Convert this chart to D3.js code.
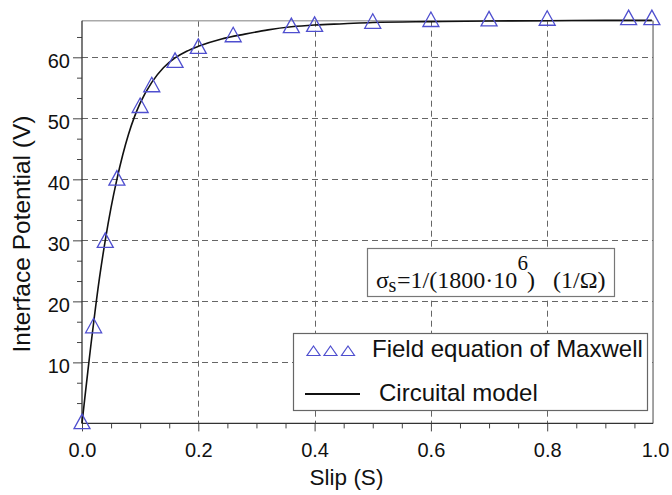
<!DOCTYPE html>
<html><head><meta charset="utf-8">
<script src="https://cdn.jsdelivr.net/npm/d3@7"></script>
<style>
html,body{margin:0;padding:0;background:#fff;}
svg{display:block;}
</style></head>
<body>
<svg id="chart" width="672" height="495"></svg>
<script>
// ---- data ----
const fieldX = [0, 0.02, 0.04, 0.06, 0.10, 0.12, 0.16, 0.20, 0.26, 0.36, 0.40, 0.50, 0.60, 0.70, 0.80, 0.94, 0.98];
const fieldY = [0.3, 16, 30, 40.2, 52.1, 55.5, 59.5, 61.8, 63.7, 65.2, 65.4, 65.9, 66.2, 66.3, 66.4, 66.5, 66.5];
const curveX = [0, 0.005, 0.01, 0.015, 0.02, 0.03, 0.04, 0.05, 0.06, 0.07, 0.08, 0.09, 0.10, 0.12, 0.14, 0.16, 0.18, 0.20, 0.24, 0.28, 0.32, 0.36, 0.40, 0.45, 0.50, 0.60, 0.70, 0.80, 0.90, 0.98];
const curveY = [0, 4.3, 8.5, 12.6, 16.5, 23.8, 30, 35.4, 40, 44, 47.4, 50.2, 52.5, 55.9, 58.3, 59.9, 61, 61.8, 63, 63.8, 64.5, 65.0, 65.3, 65.5, 65.7, 65.85, 65.95, 66.0, 66.05, 66.05];
const xTickValues = [0, 0.2, 0.4, 0.6, 0.8];
const xMinorValues = [0.05, 0.1, 0.15, 0.25, 0.3, 0.35, 0.45, 0.5, 0.55, 0.65, 0.7, 0.75, 0.85, 0.9, 0.95];
const xAxisEnd = 0.982;
const xEndLabel = "1.0";
const yTickValues = [10, 20, 30, 40, 50, 60];
const yMinorValues = [10/3, 20/3, 40/3, 50/3, 70/3, 80/3, 100/3, 110/3, 130/3, 140/3, 160/3, 170/3, 190/3];
const yMax = 66;
const xTitle = "Slip (S)";
const yTitle = "Interface Potential (V)";
const legendLabels = ["Field equation of Maxwell", "Circuital model"];

// ---- layout ----
const svg = d3.select("#chart");
const L = 82, R = 663.5, T = 20.7, B = 423.4;
const x = d3.scaleLinear().domain([0, 1]).range([L, R]);
const y = d3.scaleLinear().domain([0, yMax]).range([B, T]);
const xEnd = x(xAxisEnd);
const markerColor = "#4f4fcf";
const sans = "'Liberation Sans', Arial, Helvetica, sans-serif";
const serif = "'Liberation Serif', 'Times New Roman', serif";

// grid
const grid = svg.append("g").attr("stroke", "#666").attr("stroke-width", 1).attr("stroke-dasharray", "6,4");
grid.selectAll("line.h").data(yTickValues).join("line").attr("class", "h")
  .attr("x1", L).attr("x2", xEnd).attr("y1", d => Math.round(y(d)) + 0.5).attr("y2", d => Math.round(y(d)) + 0.5);
grid.selectAll("line.v").data(xTickValues.slice(1)).join("line").attr("class", "v")
  .attr("y1", T).attr("y2", B).attr("x1", d => Math.round(x(d)) + 0.5).attr("x2", d => Math.round(x(d)) + 0.5);

// frame top / right
svg.append("line").attr("x1", L).attr("x2", xEnd).attr("y1", T).attr("y2", T).attr("stroke", "#aaa").attr("stroke-width", 1.5);
svg.append("line").attr("x1", xEnd).attr("x2", xEnd).attr("y1", T).attr("y2", B).attr("stroke", "#666").attr("stroke-width", 1.2);

// annotation box
const ann = svg.append("g");
ann.append("rect").attr("x", 367.5).attr("y", 248.5).attr("width", 247).attr("height", 48)
  .attr("fill", "#fff").attr("stroke", "#777").attr("stroke-width", 1.2);
const annText = ann.append("text").attr("font-family", serif).attr("font-size", 24).attr("fill", "#111");
annText.append("tspan").attr("x", 376).attr("y", 287.5).text("σ");
annText.append("tspan").attr("x", 388.5).attr("y", 292).attr("font-size", 20).text("s");
annText.append("tspan").attr("x", 397).attr("y", 287.5).text("=1/(1800·10");
annText.append("tspan").attr("x", 517.5).attr("y", 270).attr("font-size", 21).text("6");
annText.append("tspan").attr("x", 527).attr("y", 287.5).text(")");
annText.append("tspan").attr("x", 553).attr("y", 287.5).text("(1/Ω)");

// legend
const lg = svg.append("g");
lg.append("rect").attr("x", 293.5).attr("y", 333.5).attr("width", 354).attr("height", 77)
  .attr("fill", "#fff").attr("stroke", "#666").attr("stroke-width", 1.2);
const legTri = [313.5, 330.5, 348];
lg.selectAll("path.lt").data(legTri).join("path").attr("class", "lt")
  .attr("d", d => `M${d},346 L${d + 6.5},355.5 L${d - 6.5},355.5 Z`)
  .attr("fill", "none").attr("stroke", markerColor).attr("stroke-width", 1.2);
lg.append("text").attr("x", 372).attr("y", 357).attr("font-family", sans).attr("font-size", 24).attr("fill", "#111").text(legendLabels[0]);
lg.append("line").attr("x1", 305).attr("x2", 360).attr("y1", 394).attr("y2", 394).attr("stroke", "#111").attr("stroke-width", 1.8);
lg.append("text").attr("x", 379).attr("y", 401).attr("font-family", sans).attr("font-size", 24).attr("fill", "#111").text(legendLabels[1]);

// axes
const xAxis = svg.append("g").attr("transform", `translate(0,${B})`)
  .call(d3.axisBottom(x).tickValues(xTickValues).tickFormat(d3.format(".1f")).tickSize(8).tickPadding(11.5));
const xAxisMinor = svg.append("g").attr("transform", `translate(0,${B})`)
  .call(d3.axisBottom(x).tickValues(xMinorValues).tickFormat("").tickSize(5));
const xAxisEndLbl = svg.append("g").attr("transform", `translate(2,${B})`)
  .call(d3.axisBottom(x).tickValues([xAxisEnd]).tickFormat(() => xEndLabel).tickSize(0).tickPadding(19.5));
[xAxis, xAxisMinor, xAxisEndLbl].forEach(g => {
  g.select(".domain").remove();
  g.selectAll("line").attr("stroke", "#444").attr("stroke-width", 1);
  g.selectAll("text").attr("font-family", sans).attr("font-size", 20).attr("fill", "#111");
});
svg.append("line").attr("x1", L).attr("x2", xEnd).attr("y1", B).attr("y2", B).attr("stroke", "#333").attr("stroke-width", 1.3);

const yAxis = svg.append("g").attr("transform", `translate(${L},0)`)
  .call(d3.axisLeft(y).tickValues(yTickValues).tickSize(9).tickPadding(3));
const yAxisMinor = svg.append("g").attr("transform", `translate(${L},0)`)
  .call(d3.axisLeft(y).tickValues(yMinorValues).tickFormat("").tickSize(5));
[yAxis, yAxisMinor].forEach(g => {
  g.select(".domain").remove();
  g.selectAll("line").attr("stroke", "#444").attr("stroke-width", 1);
  g.selectAll("text").attr("font-family", sans).attr("font-size", 20).attr("fill", "#111").attr("dy", "0.5em");
});
svg.append("line").attr("x1", L).attr("x2", L).attr("y1", T).attr("y2", B).attr("stroke", "#333").attr("stroke-width", 1.3);

// titles
svg.append("text").attr("x", 346.5).attr("y", 485).attr("text-anchor", "middle")
  .attr("font-family", sans).attr("font-size", 22.5).attr("fill", "#111").text(xTitle);
svg.append("text").attr("transform", "translate(30,234) rotate(-90)").attr("text-anchor", "middle")
  .attr("font-family", sans).attr("font-size", 24.5).attr("fill", "#111").text(yTitle);

// curve
const curveData = curveX.map((d, i) => [d, curveY[i]]);
svg.append("path").datum(curveData)
  .attr("d", d3.line().x(d => x(d[0])).y(d => y(d[1])).curve(d3.curveMonotoneX))
  .attr("fill", "none").attr("stroke", "#111").attr("stroke-width", 1.6);

// markers
const fieldData = fieldX.map((d, i) => [d, fieldY[i]]);
svg.append("g").selectAll("path").data(fieldData).join("path")
  .attr("transform", d => `translate(${x(d[0])},${y(d[1])})`)
  .attr("d", "M0,-7.5 L8,7 L-8,7 Z")
  .attr("fill", "none").attr("stroke", markerColor).attr("stroke-width", 1.3);
</script>
</body></html>
